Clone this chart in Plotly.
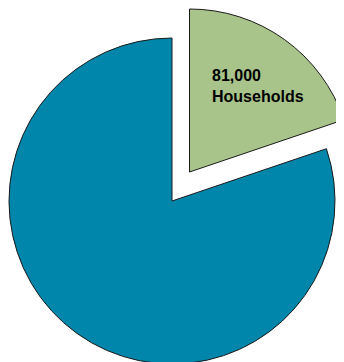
import plotly.graph_objects as go

# Data
categories = ["Households", "Other"]
values = [81000, 328000]
colors = ["#A8C48A", "#0086AB"]

# Layout geometry (pixels, figure coordinates; page has an 8px body margin)
W, H = 346, 358
R = 163
teal_c = (164, 193)
green_c = (181.5, 164)


def dom(c):
    cx, cy = c
    return dict(x=[(cx - R) / W, (cx + R) / W],
                y=[1 - (cy + R) / H, 1 - (cy - R) / H])


common = dict(labels=categories, values=values, sort=False, direction="clockwise",
              rotation=0, textinfo="none", hoverinfo="skip", showlegend=False)

fig = go.Figure()
# main (teal) slice
fig.add_trace(go.Pie(**common, domain=dom(teal_c),
                     marker=dict(colors=["rgba(0,0,0,0)", colors[1]],
                                 line=dict(color="#1a1a1a", width=[0, 1]))))
# exploded (green) slice
fig.add_trace(go.Pie(**common, domain=dom(green_c),
                     marker=dict(colors=[colors[0], "rgba(0,0,0,0)"],
                                 line=dict(color="#1a1a1a", width=[1, 0]))))

fig.add_annotation(text=f"<b>{values[0]:,}<br>{categories[0]}</b>",
                   x=202 / W, y=1 - 78 / H, xref="paper", yref="paper",
                   xanchor="left", yanchor="middle", align="left", showarrow=False,
                   font=dict(family="Liberation Sans, Arial, sans-serif", size=16, color="#000"))

fig.update_layout(width=W, height=H, margin=dict(l=0, r=0, t=0, b=0),
                  paper_bgcolor="white", plot_bgcolor="white")

fig.write_html("out.html")
